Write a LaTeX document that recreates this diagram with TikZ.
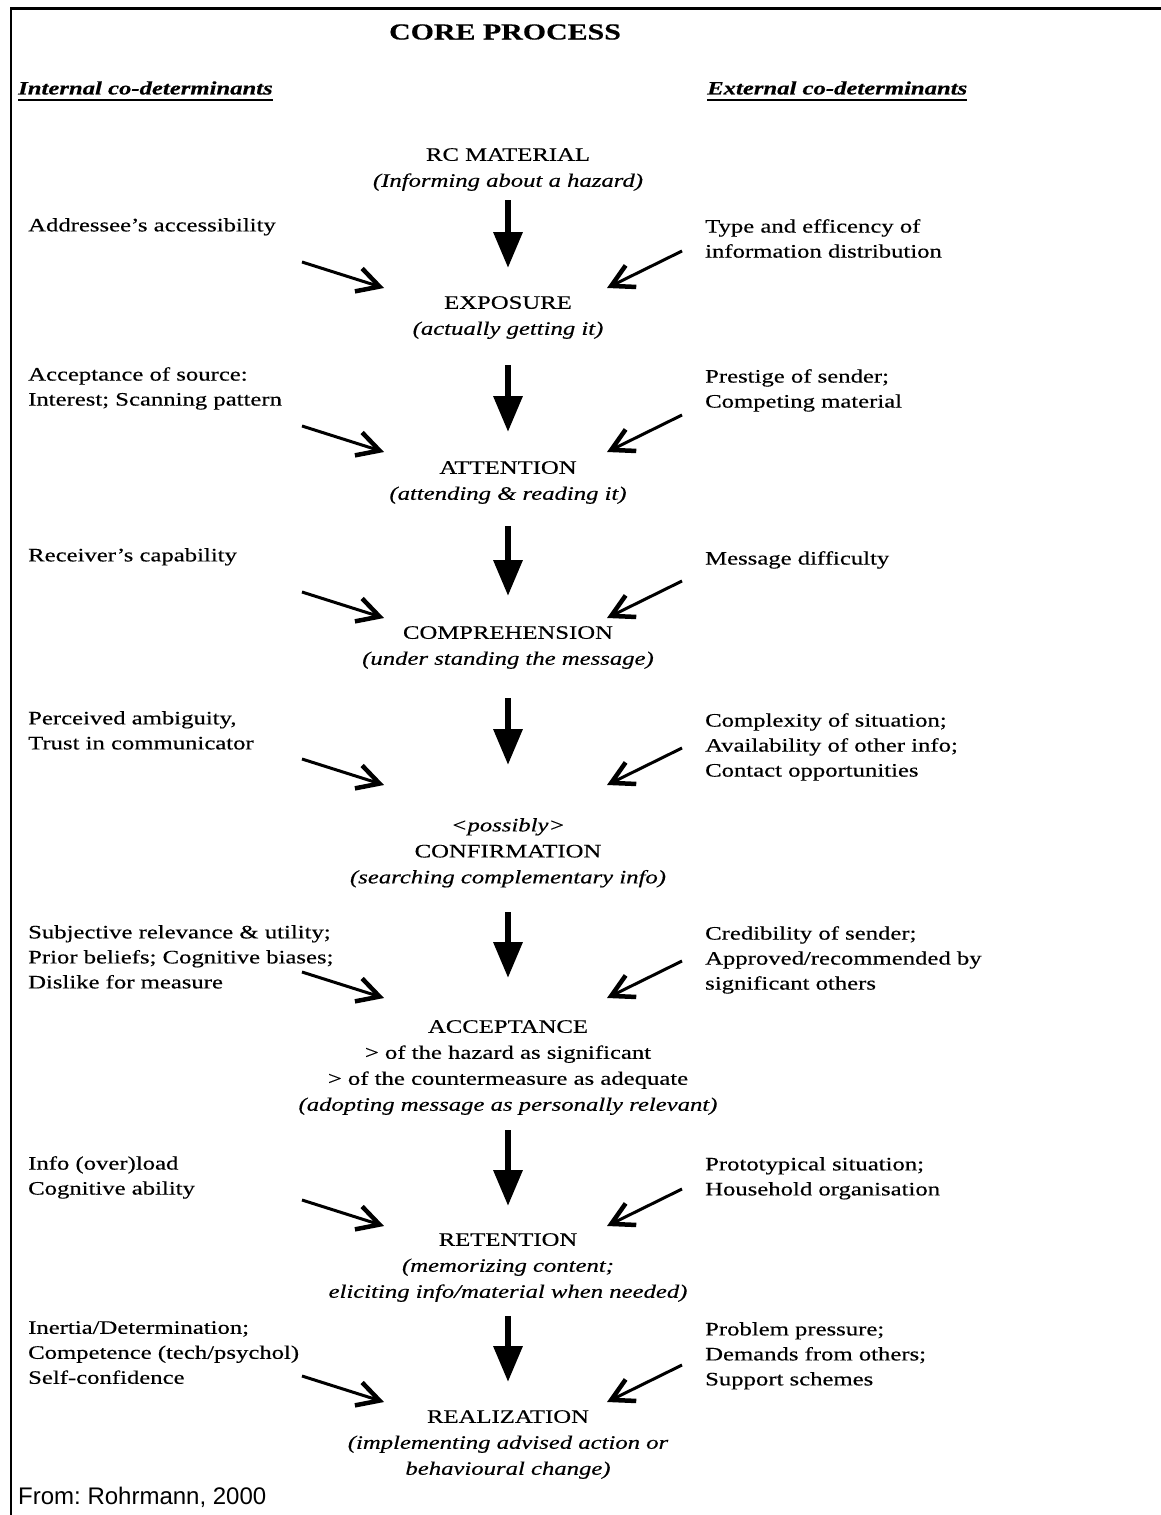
\documentclass[tikz,border=0pt]{standalone}
\usepackage{fontspec}
\setmainfont[FakeStretch=1.3,FakeBold=0.4]{Liberation Serif}
\newfontfamily\fromfont{Liberation Sans}
\usetikzlibrary{arrows.meta}
\frenchspacing
\tikzset{
  txt/.style={inner sep=0pt, font=\fontsize{19}{25}\selectfont},
  stage/.style={txt, anchor=north, align=center, font=\fontsize{19}{26}\selectfont},
  side/.style={txt, anchor=north west, align=left},
  bigarrow/.style={line width=6.5pt, -{Triangle[length=36pt,width=28pt]}},
  diagarrow/.style={line width=3pt, -{Straight Barb[length=22pt,width=24pt,line width=4.5pt]}},
}
\begin{document}
\begin{tikzpicture}[x=1pt,y=-1pt]
\useasboundingbox (0,0) rectangle (1161,1515);
\fill[white] (0,0) rectangle (1161,1515);
% frame
\draw[line width=3pt] (10,8) -- (1161,8);
\draw[line width=2pt] (11,8) -- (11,1515);

% headings
\node[inner sep=0pt, font=\fontsize{23}{28}\selectfont\bfseries] (core) at (505,32) {CORE PROCESS};
\node[inner sep=0pt, anchor=west, font=\fontsize{19}{25}\selectfont\bfseries\itshape] (int) at (18,88) {Internal co-determinants};
\node[inner sep=0pt, anchor=west, font=\fontsize{19}{25}\selectfont\bfseries\itshape] (ext) at (707,88) {External co-determinants};
\draw[line width=2.5pt] ([yshift=-5pt]int.south west) -- ([yshift=-5pt]int.south east);
\draw[line width=2.5pt] ([yshift=-5pt]ext.south west) -- ([yshift=-5pt]ext.south east);

% stages
\node[stage] (rc) at (508,148) {RC MATERIAL\\{\itshape (Informing about a hazard)}};
\node[stage] (exp) at (508,296) {EXPOSURE\\{\itshape (actually getting it)}};
\node[stage] (att) at (508,461) {ATTENTION\\{\itshape (attending \& reading it)}};
\node[stage] (comp) at (508,626) {COMPREHENSION\\{\itshape (under standing the message)}};
\node[stage] (conf) at (508,818) {{\itshape <possibly>}\\CONFIRMATION\\{\itshape (searching complementary info)}};
\node[stage] (acc) at (508,1020) {ACCEPTANCE\\> of the hazard as significant\\> of the countermeasure as adequate\\{\itshape (adopting message as personally relevant)}};
\node[stage] (ret) at (508,1233) {RETENTION\\{\itshape (memorizing content;}\\{\itshape eliciting info/material when needed)}};
\node[stage] (real) at (508,1410) {REALIZATION\\{\itshape (implementing advised action or}\\{\itshape behavioural change)}};

% internal co-determinants
\node[side] (lexp) at (28,218) {Addressee's accessibility};
\node[side] (latt) at (28,367) {Acceptance of source:\\Interest; Scanning pattern};
\node[side] (lcomp) at (28,548) {Receiver's capability};
\node[side] (lconf) at (28,711) {Perceived ambiguity,\\Trust in communicator};
\node[side] (lacc) at (28,925) {Subjective relevance \& utility;\\Prior beliefs; Cognitive biases;\\Dislike for measure};
\node[side] (lret) at (28,1156) {Info (over)load\\Cognitive ability};
\node[side] (lreal) at (28,1321) {Inertia/Determination;\\Competence (tech/psychol)\\Self-confidence};

% external co-determinants
\node[side] (rexp) at (705,219) {Type and efficency of\\information distribution};
\node[side] (ratt) at (705,369) {Prestige of sender;\\Competing material};
\node[side] (rcomp) at (705,551) {Message difficulty};
\node[side] (rconf) at (705,713) {Complexity of situation;\\Availability of other info;\\Contact opportunities};
\node[side] (racc) at (705,926) {Credibility of sender;\\Approved/recommended by\\significant others};
\node[side] (rret) at (705,1157) {Prototypical situation;\\Household organisation};
\node[side] (rreal) at (705,1322) {Problem pressure;\\Demands from others;\\Support schemes};

% central arrows
\foreach \n/\s/\e in {1/200/268, 2/365/432, 3/526/596, 4/698/765, 5/912/978, 6/1130/1206, 7/1316/1382}{
  \coordinate (cs\n) at (508,\s);
  \coordinate (ce\n) at (508,\e);
  \draw[bigarrow] (cs\n) -- (ce\n);
}
% side arrows
\foreach \n/\E in {1/288, 2/452, 3/618, 4/785, 5/998, 6/1226, 7/1402}{
  \coordinate (ls\n) at (302,\E-26);
  \coordinate (le\n) at (384,\E);
  \coordinate (rs\n) at (682,\E-37);
  \coordinate (re\n) at (607,\E);
  \draw[diagarrow] (ls\n) -- (le\n);
  \draw[diagarrow] (rs\n) -- (re\n);
}

\node[inner sep=0pt, anchor=west, font=\fontsize{24}{28}\selectfont\fromfont] (src) at (18,1497) {From: Rohrmann, 2000};
\end{tikzpicture}
\end{document}
